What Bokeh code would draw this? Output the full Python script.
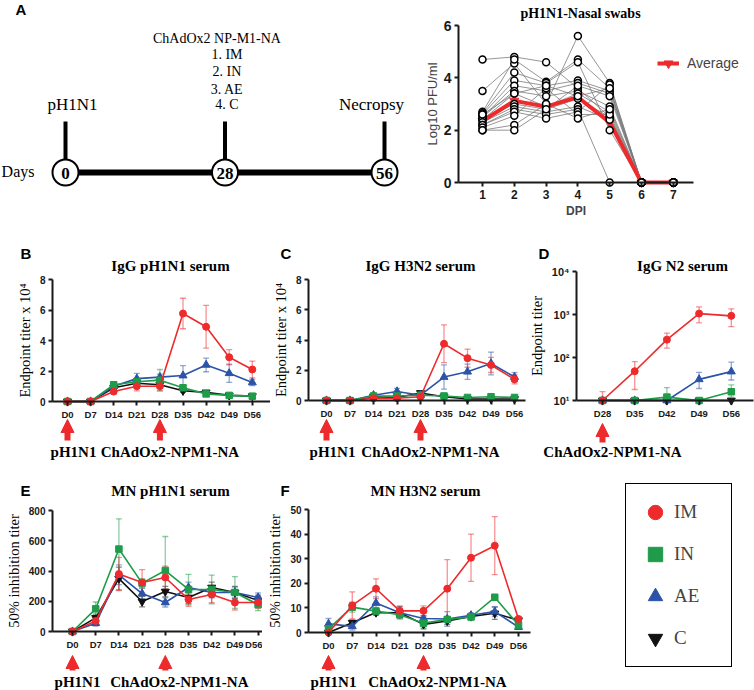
from bokeh.plotting import figure
from bokeh.layouts import row, column
from bokeh.models import (Range1d, FixedTicker, Label, Arrow, NormalHead, Whisker, TeeHead,
                          ColumnDataSource, Legend, LegendItem)
from bokeh.core.properties import value
from bokeh.embed import file_html
from bokeh.resources import INLINE
import math

SERIF = "Liberation Serif"
SANS = "Liberation Sans"
RED = "#EE2A2C"
GREEN = "#1E9C4A"
BLUE = "#2B53A7"
BLACK = "#111111"

# ---------------- data ----------------
timeline_days = [0, 28, 56]
timeline_events = ["pH1N1", "ChAdOx2 NP-M1-NA", "Necropsy"]
vaccine_routes = ["1. IM", "2. IN", "3. AE", "4. C"]

nasal_dpi = [1, 2, 3, 4, 5, 6, 7]
nasal_pigs = [
    [4.7, 4.8, 4.6, 3.6, 2.5, 0, 0],
    [3.5, 4.55, 3.0, 5.6, 3.8, 0, 0],
    [2.7, 4.7, 3.85, 4.7, 3.6, 0, 0],
    [2.65, 4.2, 3.8, 4.6, 2.0, 0, 0],
    [2.6, 3.9, 3.7, 3.9, 3.5, 0, 0],
    [2.5, 3.7, 3.5, 3.8, 3.4, 0, 0],
    [2.5, 3.5, 3.3, 3.5, 2.9, 0, 0],
    [2.4, 3.4, 2.9, 3.4, 2.7, 0, 0],
    [2.4, 3.0, 2.8, 3.2, 2.5, 0, 0],
    [2.3, 2.9, 2.7, 2.9, 2.4, 0, 0],
    [2.2, 2.8, 2.6, 2.8, 0, 0, 0],
    [2.2, 2.7, 2.45, 2.7, 3.75, 0, 0],
    [2.1, 2.55, 3.6, 2.6, 2.6, 0, 0],
    [2.0, 2.2, 3.0, 2.45, 2.8, 0, 0],
    [2.0, 2.0, 2.8, 3.7, 3.3, 0, 0],
    [2.6, 3.4, 3.7, 3.3, 3.6, 0, 0],
]
nasal_avg = [2.35, 3.12, 2.9, 3.26, 2.3, 0, 0]

groups = ["IM", "IN", "AE", "C"]
group_colors = [RED, GREEN, BLUE, BLACK]
group_markers = ["circle", "square", "triangle", "inverted_triangle"]
group_sizes = [7, 6.5, 8, 8]

sample_days = ["D0", "D7", "D14", "D21", "D28", "D35", "D42", "D49", "D56"]
n2_days = ["D28", "D35", "D42", "D49", "D56"]

# IgG pH1N1 (x10^4), order IM, IN, AE, C
igg_h1_mean = [
    [0, 0, 0.65, 1.0, 1.0, 5.77, 4.9, 2.9, 2.1],
    [0, 0, 1.1, 1.3, 1.4, 0.9, 0.5, 0.4, 0.35],
    [0, 0, 1.0, 1.5, 1.6, 1.7, 2.4, 1.85, 1.25],
    [0, 0, 0.9, 1.2, 1.1, 0.7, 0.6, 0.4, 0.35],
]
igg_h1_err = [
    [0, 0, 0.15, 0.3, 0.3, 1.0, 1.4, 0.5, 0.55],
    [0, 0, 0.2, 0.2, 0.7, 0.2, 0.1, 0.1, 0.05],
    [0, 0, 0.2, 0.35, 0.2, 0.65, 0.45, 0.6, 0.2],
    [0, 0, 0.15, 0.2, 0.2, 0.1, 0.1, 0.05, 0.05],
]
# IgG H3N2 (x10^4)
igg_h3_mean = [
    [0, 0, 0.15, 0.15, 0.25, 3.75, 2.8, 2.35, 1.4],
    [0, 0, 0.3, 0.3, 0.35, 0.3, 0.2, 0.25, 0.2],
    [0, 0, 0.35, 0.6, 0.35, 1.55, 1.9, 2.45, 1.55],
    [0, 0, 0.25, 0.2, 0.5, 0.25, 0.1, 0.1, 0.1],
]
igg_h3_err = [
    [0, 0, 0.05, 0.05, 0.1, 1.25, 0.6, 0.5, 0.3],
    [0, 0, 0.05, 0.05, 0.05, 0.1, 0.05, 0.05, 0.05],
    [0, 0, 0.1, 0.2, 0.1, 0.8, 0.5, 0.75, 0.3],
    [0, 0, 0.05, 0.05, 0.1, 0.05, 0.05, 0.05, 0.05],
]
# IgG N2 endpoint titer (log scale)
igg_n2_mean = [
    [10, 48, 260, 1050, 930],
    [10, 10, 12, 10, 16],
    [10, 10, 10, 31, 47],
    [10, 10, 10, 10, 10],
]
igg_n2_lower = [
    [10, 18, 165, 640, 520],
    [10, 10, 10, 10, 12],
    [10, 10, 10, 19, 30],
    [10, 10, 10, 10, 10],
]
igg_n2_upper = [
    [16, 80, 370, 1500, 1350],
    [10, 10, 20, 10, 23],
    [10, 10, 10, 45, 78],
    [10, 10, 10, 10, 10],
]
# MN pH1N1
mn_h1_mean = [
    [0, 70, 380, 324, 357, 212, 245, 192, 192],
    [0, 150, 545, 320, 403, 278, 278, 258, 178],
    [0, 55, 375, 251, 192, 291, 258, 258, 225],
    [0, 90, 350, 198, 264, 225, 291, 258, 205],
]
mn_h1_err = [
    [0, 20, 110, 85, 75, 45, 55, 50, 40],
    [0, 45, 200, 30, 225, 100, 95, 105, 40],
    [0, 20, 65, 35, 30, 35, 35, 35, 30],
    [0, 25, 75, 35, 35, 40, 35, 40, 35],
]
# MN H3N2
mn_h3_mean = [
    [0, 11, 17.8, 8.8, 8.8, 17.8, 30.4, 35.3, 5.5],
    [1.5, 10.3, 8.7, 7.2, 3.8, 5.3, 6.3, 14.3, 3.0],
    [3.5, 2.5, 12.0, 8.0, 5.7, 5.5, 7.0, 8.5, 2.2],
    [0, 4.0, 8.1, 8.0, 3.3, 4.7, 6.5, 7.8, 5.0],
]
mn_h3_err = [
    [0, 5.5, 4.0, 2.0, 2.0, 11.8, 9.6, 11.8, 1.0],
    [1.0, 2.0, 1.5, 1.0, 2.5, 1.0, 0.8, 1.2, 1.0],
    [2.2, 1.5, 2.5, 1.8, 1.2, 3.0, 1.0, 2.0, 0.8],
    [0, 1.0, 1.0, 2.5, 1.5, 1.5, 1.0, 2.5, 1.0],
]


# ---------------- helpers ----------------
class Frame:
    """Maps page pixels of one panel to data values (the whole figure is the plot frame)."""

    def __init__(self, px0, py0, W, H, xa, va, sx, ybot, ytop, vbot, vtop, log=False):
        self.px0, self.py0, self.W, self.H = px0, py0, W, H
        self.xa, self.va, self.sx = xa, va, sx
        self.log = log
        f = (lambda v: math.log10(v)) if log else (lambda v: v)
        self.ybot, self.lb = ybot, f(vbot)
        self.sy = (ybot - ytop) / (f(vtop) - f(vbot))

    def xv(self, X):
        return self.va + (X - self.xa) / self.sx

    def yv(self, Y):
        t = self.lb + (self.ybot - Y) / self.sy
        return 10 ** t if self.log else t

    def fig(self):
        p = figure(width=self.W, height=self.H,
                   x_range=Range1d(self.xv(self.px0), self.xv(self.px0 + self.W)),
                   y_range=Range1d(self.yv(self.py0 + self.H), self.yv(self.py0)),
                   y_axis_type="log" if self.log else "linear",
                   output_backend="svg", toolbar_location=None,
                   min_border_left=0, min_border_right=0, min_border_top=0, min_border_bottom=0)
        p.grid.visible = False
        p.outline_line_color = None
        p.background_fill_color = "white"
        p.border_fill_color = "white"
        return p

    def sxy(self, X, Y):
        return X - self.px0, self.py0 + self.H - Y


def style_axes(p, tick_px):
    for ax in p.axis:
        ax.axis_line_width = 2
        ax.axis_line_color = "#1a1a1a"
        ax.major_tick_line_width = 2
        ax.major_tick_line_color = "#1a1a1a"
        ax.major_tick_out = 4
        ax.major_tick_in = 0
        ax.minor_tick_line_color = None
        ax.major_label_text_font = SANS
        ax.major_label_text_font_style = "bold"
        ax.major_label_text_font_size = f"{tick_px}px"
        ax.major_label_text_color = "#1a1a1a"
        ax.major_label_standoff = 3
        ax.axis_label_standoff = 4


def add_text(p, text, sx, sy, size, font, bold=False, align="center", x_units="screen",
             x_offset=0):
    p.add_layout(Label(x=sx, y=sy, x_units=x_units, y_units="screen", text=text,
                       x_offset=x_offset,
                       text_font=font, text_font_size=f"{size}px",
                       text_font_style="bold" if bold else "normal",
                       text_align=align, text_baseline="middle", text_color="black"))


def place_axes(p, fr, axis_left, axis_right, y0, y1):
    p.xaxis.fixed_location = y0
    p.xaxis.bounds = (fr.xv(axis_left), fr.xv(axis_right))
    p.yaxis.fixed_location = fr.xv(axis_left)
    p.yaxis.bounds = (y0, y1)


def series_panel(spec):
    px0, py0, W, H = spec["box"]
    d0, sp = spec["d0"], spec["sp"]
    ybot, ytop = spec["ypix"]
    y0, y1 = spec["yr"]
    log = spec.get("log", False)
    fr = Frame(px0, py0, W, H, d0, 0, sp, ybot, ytop, y0, y1, log)
    p = fr.fig()
    style_axes(p, 10)
    p.xaxis.major_label_text_font_size = "9.5px"
    cats = spec["cats"]
    xs = list(range(len(cats)))
    place_axes(p, fr, spec["axis_x"][0], spec["axis_x"][1], y0, y1)
    p.xaxis.ticker = FixedTicker(ticks=xs)
    p.xaxis.major_label_overrides = {i: c for i, c in enumerate(cats)}
    p.yaxis.ticker = FixedTicker(ticks=spec["yticks"])
    if "ylab_over" in spec:
        p.yaxis.major_label_overrides = spec["ylab_over"]
        p.yaxis.major_label_text_font_size = "11px"
    p.yaxis.axis_label = spec["ylabel"]
    p.yaxis.axis_label_text_font = SERIF
    p.yaxis.axis_label_text_font_style = "normal"
    p.yaxis.axis_label_text_font_size = "14.5px"
    p.yaxis.axis_label_text_color = "black"

    means = spec["means"]
    order = [3, 2, 1, 0]
    rends = {}
    for g in order:
        col = group_colors[g]
        if "errs" in spec:
            lo = [m - e for m, e in zip(means[g], spec["errs"][g])]
            hi = [m + e for m, e in zip(means[g], spec["errs"][g])]
        else:
            lo = spec["lowers"][g]
            hi = spec["uppers"][g]
        src = ColumnDataSource(dict(x=xs, lo=lo, hi=hi))
        p.add_layout(Whisker(source=src, base="x", lower="lo", upper="hi",
                             line_color=col, line_alpha=0.5, line_width=1.3, level="underlay",
                             lower_head=TeeHead(size=6, line_color=col, line_alpha=0.5, line_width=1.3),
                             upper_head=TeeHead(size=6, line_color=col, line_alpha=0.5, line_width=1.3)))
    for g in order:
        col = group_colors[g]
        p.line(xs, means[g], line_color=col, line_width=1.6)
        rends[g] = p.scatter(xs, means[g], marker=group_markers[g], size=group_sizes[g],
                             fill_color=col, line_color=col)

    tx, ty = spec["title_at"]
    add_text(p, spec["title"], *fr.sxy(tx, ty), 15, SERIF, bold=True)
    lx, ly = spec["letter_at"]
    add_text(p, spec["letter"], *fr.sxy(lx, ly), 15, SANS, bold=True, align="left")

    tip, tail, txt = spec["arrow_y"]
    for idx in spec["arrow_idx"]:
        p.add_layout(Arrow(x_start=idx, y_start=fr.yv(tail), x_end=idx, y_end=fr.yv(tip),
                           line_color=RED, line_width=6,
                           end=NormalHead(size=13, fill_color=RED, line_color=RED, line_width=1)))
    for idx, lab, off in spec["event_labels"]:
        add_text(p, lab, idx, fr.sxy(0, txt)[1], 15, SERIF, bold=True, x_units="data",
                 x_offset=off)
    return p, rends, fr


# ---------------- panel A: timeline ----------------
A_W = 412
tl_x0, tl_sc = 65, (384 - 65) / 56
pA = figure(width=A_W, height=222,
            x_range=Range1d(-tl_x0 / tl_sc, (A_W - tl_x0) / tl_sc), y_range=Range1d(222, 0),
            output_backend="svg", toolbar_location=None,
            min_border_left=0, min_border_right=0, min_border_top=0, min_border_bottom=0)
pA.axis.visible = False
pA.grid.visible = False
pA.outline_line_color = None
pA.line(x=[timeline_days[0], timeline_days[-1]], y=[172, 172], line_width=6, line_color="black")
pA.segment(x0=timeline_days, y0=[121] * 3, x1=timeline_days, y1=[159] * 3,
           line_width=4, line_color="black")
pA.scatter(x=timeline_days, y=[172] * 3, size=26, marker="circle", fill_color="white",
           line_color="black", line_width=2)
pA.text(x=timeline_days, y=[173] * 3, text=[str(d) for d in timeline_days],
        text_font=value(SERIF), text_font_style="bold", text_font_size="17px",
        text_align="center", text_baseline="middle")
pA.text(x=[timeline_days[0]], y=[104], text=[timeline_events[0]], x_offset=7,
        text_font=value(SERIF), text_font_size="17px", text_align="center", text_baseline="middle")
pA.text(x=[timeline_days[2]], y=[104], text=[timeline_events[2]], x_offset=-13,
        text_font=value(SERIF), text_font_size="17px", text_align="center", text_baseline="middle")
pA.text(x=[timeline_days[1]], y=[38], text=[timeline_events[1]], x_offset=-8,
        text_font=value(SERIF), text_font_size="14px", text_align="center", text_baseline="middle")
pA.text(x=[timeline_days[1]] * 4, y=[54, 71, 89, 104], text=vaccine_routes, x_offset=2,
        text_font=value(SERIF), text_font_size="14px", text_align="center", text_baseline="middle")
pA.text(x=[timeline_days[0]], y=[171], text=["Days"], x_offset=-31,
        text_font=value(SERIF), text_font_size="16px", text_align="right", text_baseline="middle")
add_text(pA, "A", 15, 222 - 9, 15, SANS, bold=True, align="left")

# ---------------- nasal swabs ----------------
frN = Frame(A_W, 0, 754 - A_W, 222, 482, 1, 31.8, 182, 25, 0, 6)
pN = frN.fig()
style_axes(pN, 13)
place_axes(pN, frN, 458, 693, 0, 6)
pN.xaxis.major_label_text_font_size = "12px"
pN.xaxis.ticker = FixedTicker(ticks=nasal_dpi)
pN.yaxis.ticker = FixedTicker(ticks=[0, 2, 4, 6])
pN.yaxis.major_label_text_font_size = "14px"
pN.xaxis.axis_label = "DPI"
pN.xaxis.axis_label_text_font = SANS
pN.xaxis.axis_label_text_font_style = "bold"
pN.xaxis.axis_label_text_font_size = "12px"
pN.xaxis.axis_label_standoff = 2
pN.yaxis.axis_label = "Log10 PFU/ml"
pN.yaxis.axis_label_text_font = SANS
pN.yaxis.axis_label_text_font_style = "normal"
pN.yaxis.axis_label_text_font_size = "13px"
pN.yaxis.axis_label_standoff = 1
pN.multi_line(xs=[nasal_dpi] * len(nasal_pigs), ys=nasal_pigs, line_color="#7a7a7a",
              line_width=0.8)
avg_line = pN.line(nasal_dpi, nasal_avg, line_color=RED, line_width=4)
avg_pts = pN.scatter(nasal_dpi, nasal_avg, marker="inverted_triangle", size=9,
                     fill_color=RED, line_color=RED)
for pig in nasal_pigs:
    pN.scatter(nasal_dpi, pig, marker="circle", size=7, fill_color="white",
               line_color="black", line_width=1.5)
add_text(pN, "pH1N1-Nasal swabs", *frN.sxy(580, 13), 14, SERIF, bold=True)
legN = Legend(items=[LegendItem(label="Average", renderers=[avg_line, avg_pts])],
              location=frN.sxy(657, 74), padding=0, margin=0, glyph_width=22, glyph_height=22,
              label_height=22, label_standoff=8, label_text_font=SANS, label_text_font_size="14px",
              border_line_color=None, background_fill_alpha=0)
pN.add_layout(legN)

# ---------------- row 2 ----------------
pB, _, _ = series_panel(dict(
    box=(0, 222, 270, 240), cats=sample_days, d0=67, sp=23.1, ypix=(401, 279), axis_x=(52, 270),
    yr=(0, 8), yticks=[0, 2, 4, 6, 8], ylabel="Endpoint titer x 10\u2074",
    means=igg_h1_mean, errs=igg_h1_err, title="IgG pH1N1 serum", title_at=(170, 265),
    letter="B", letter_at=(20, 253), arrow_idx=[0, 4], arrow_y=(419, 440, 451),
    event_labels=[(0, "pH1N1", 6), (4, "ChAdOx2-NPM1-NA", 10)]))
pC, _, _ = series_panel(dict(
    box=(270, 222, 260, 240), cats=sample_days, d0=326, sp=23.5, ypix=(400, 279),
    axis_x=(308, 525),
    yr=(0, 8), yticks=[0, 2, 4, 6, 8], ylabel="Endpoint titer x 10\u2074",
    means=igg_h3_mean, errs=igg_h3_err, title="IgG H3N2 serum", title_at=(420, 265),
    letter="C", letter_at=(280, 253), arrow_idx=[0, 4], arrow_y=(419, 440, 451),
    event_labels=[(0, "pH1N1", 6), (4, "ChAdOx2-NPM1-NA", 10)]))
pD, _, _ = series_panel(dict(
    box=(530, 222, 224, 240), cats=n2_days, d0=602, sp=32.2, ypix=(400, 271),
    axis_x=(576, 753),
    yr=(10, 10000), yticks=[10, 100, 1000, 10000], log=True,
    ylab_over={10: "10\u00b9", 100: "10\u00b2", 1000: "10\u00b3", 10000: "10\u2074"},
    ylabel="Endpoint titer",
    means=igg_n2_mean, lowers=igg_n2_lower, uppers=igg_n2_upper,
    title="IgG N2 serum", title_at=(682, 265),
    letter="D", letter_at=(538, 253), arrow_idx=[0], arrow_y=(423, 442, 451),
    event_labels=[(0, "ChAdOx2-NPM1-NA", 10)]))

# ---------------- row 3 ----------------
pE, _, _ = series_panel(dict(
    box=(0, 462, 262, 228), cats=sample_days, d0=72, sp=23.2, ypix=(631, 510), axis_x=(52, 268),
    yr=(0, 800), yticks=[0, 200, 400, 600, 800], ylabel="50% inhibition titer",
    means=mn_h1_mean, errs=mn_h1_err, title="MN pH1N1 serum", title_at=(170, 490),
    letter="E", letter_at=(20, 490), arrow_idx=[0, 4], arrow_y=(655, 670, 681),
    event_labels=[(0, "pH1N1", 5), (4, "ChAdOx2-NPM1-NA", 14)]))
pF, rF, frF = series_panel(dict(
    box=(262, 462, 492, 228), cats=sample_days, d0=328, sp=23.75, ypix=(632, 509),
    axis_x=(308, 530),
    yr=(0, 50), yticks=[0, 10, 20, 30, 40, 50], ylabel="50% inhibition titer",
    means=mn_h3_mean, errs=mn_h3_err, title="MN H3N2 serum", title_at=(425, 490),
    letter="F", letter_at=(280, 490), arrow_idx=[0, 4], arrow_y=(655, 670, 681),
    event_labels=[(0, "pH1N1", 5), (4, "ChAdOx2-NPM1-NA", 14)]))

legF = Legend(items=[LegendItem(label=g, renderers=[rF[i]]) for i, g in enumerate(groups)],
              location=frF.sxy(625, 667), padding=10, spacing=6, margin=0,
              glyph_width=38, glyph_height=36, label_standoff=0, label_width=47,
              label_text_font=SERIF, label_text_font_size="19px",
              border_line_color="black", border_line_width=1.5, border_line_alpha=1,
              background_fill_color="white", background_fill_alpha=1)
pF.add_layout(legF)

layout = column(row(pA, pN), row(pB, pC, pD), row(pE, pF))
open("out.html", "w").write(file_html(layout, INLINE))
